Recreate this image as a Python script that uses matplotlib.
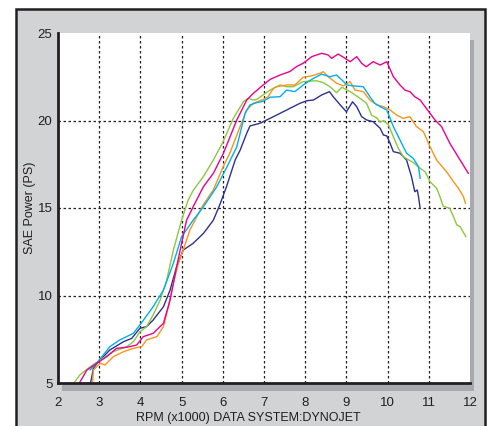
import matplotlib
matplotlib.use("Agg")
import matplotlib.pyplot as plt
from matplotlib.patches import Rectangle

plt.rcParams['font.family'] = ['Liberation Sans', 'DejaVu Sans']

# dyno runs: engine speed (x1000 rpm) vs SAE power (PS)
green_rpm = [2.39, 2.53, 2.78, 3.02, 3.34, 3.67, 3.83, 3.99, 4.15, 4.31, 4.48, 4.64, 4.8, 5.0,
             5.16, 5.28, 5.53, 5.77, 6.01, 6.25, 6.5, 6.62, 6.74, 6.82, 6.94, 7.15, 7.39, 7.55,
             7.71, 7.95, 8.08, 8.28, 8.44, 8.6, 8.76, 8.89, 9.09, 9.33, 9.49, 9.61, 9.74, 9.82,
             9.9, 10.02, 10.14, 10.26, 10.38, 10.62, 10.79, 10.91, 11.03, 11.19, 11.27, 11.35,
             11.51, 11.6, 11.68, 11.76, 11.9]
green_ps = [5.0, 5.46, 5.93, 6.31, 6.79, 7.08, 7.36, 7.93, 8.22, 8.89, 9.74, 10.89, 12.6, 14.3,
            15.46, 16.0, 16.8, 17.74, 18.8, 20.1, 21.07, 21.27, 21.17, 21.2, 21.4, 21.74, 22.03, 21.93,
            21.93, 22.22, 22.25, 22.27, 22.16, 21.93, 21.59, 21.9, 21.65, 21.27, 20.98, 20.31, 20.15, 19.9,
            20.0, 19.75, 19.07, 18.41, 17.93, 17.6, 17.27, 17.07, 16.5, 16.13, 15.65, 15.1,
            14.98, 14.5, 14.03, 13.93, 13.36]

pink_rpm = [2.52, 2.7, 2.94, 3.18, 3.42, 3.67, 3.91, 4.07, 4.31, 4.56, 4.72, 4.88, 5.0, 5.12,
            5.28, 5.53, 5.77, 6.01, 6.34, 6.58, 6.74, 6.98, 7.15, 7.39, 7.63, 7.79, 7.95, 8.16,
            8.4, 8.56, 8.64, 8.8, 8.97, 9.09, 9.25, 9.37, 9.48, 9.65, 9.82, 9.98, 10.14, 10.3,
            10.42, 10.54, 10.66, 10.79, 10.91, 11.03, 11.15, 11.31, 11.51, 11.76, 11.96]
pink_ps = [5.0, 5.74, 6.13, 6.5, 6.98, 7.04, 7.17, 7.65, 7.84, 8.41, 9.74, 11.65, 12.98, 14.3,
           15.07, 16.22, 16.98, 18.1, 20.03, 21.17, 21.55, 22.03, 22.35, 22.6, 22.8, 23.08, 23.27, 23.65,
           23.84, 23.74, 23.55, 23.8, 23.55, 23.36, 23.65, 23.27, 23.07, 23.36, 23.17, 23.36, 22.5, 22.03,
           21.74, 21.65, 21.36, 21.17, 20.79, 20.41, 20.03, 19.65, 18.7, 17.74, 16.98]

orange_rpm = [2.84, 2.86, 3.02, 3.14, 3.34, 3.59, 3.83, 4.03, 4.15, 4.4, 4.56, 4.68, 4.8, 4.92,
              5.04, 5.2, 5.37, 5.53, 5.77, 6.01, 6.17, 6.42, 6.58, 6.74, 6.98, 7.1, 7.23, 7.31,
              7.55, 7.75, 7.95, 8.16, 8.36, 8.44, 8.56, 8.76, 8.93, 9.09, 9.21, 9.41, 9.57, 9.74,
              9.9, 10.06, 10.22, 10.38, 10.54, 10.7, 10.87, 11.03, 11.19, 11.43, 11.6, 11.72,
              11.84, 11.89]
orange_ps = [5.0, 5.74, 6.13, 6.03, 6.5, 6.79, 6.98, 7.08, 7.46, 7.65, 8.22, 9.36, 10.7, 11.84,
             12.6, 13.74, 14.5, 15.2, 16.03, 17.36, 18.13, 19.65, 20.6, 20.98, 21.2, 21.36, 21.84, 21.93,
             22.03, 22.03, 22.47, 22.55, 22.7, 22.79, 22.5, 22.13, 21.98, 22.22, 21.74, 21.65, 21.17, 20.89,
             20.79, 20.6, 20.31, 20.12, 20.22, 19.65, 19.36, 18.5, 17.74, 17.07, 16.5, 16.13,
             15.65, 15.27]

cyan_rpm = [2.78, 2.94, 3.26, 3.5, 3.83, 4.03, 4.31, 4.56, 4.8, 5.0, 5.28, 5.53, 5.85, 6.09,
            6.34, 6.54, 6.66, 6.82, 6.98, 7.15, 7.39, 7.55, 7.75, 7.95, 8.2, 8.4, 8.6, 8.76,
            8.89, 9.01, 9.17, 9.41, 9.57, 9.69, 9.82, 9.98, 10.14, 10.3, 10.46, 10.62, 10.75, 10.79]
cyan_ps = [5.75, 6.13, 7.08, 7.46, 7.84, 8.45, 9.36, 10.31, 11.84, 13.36, 14.3, 15.07, 16.2, 17.3,
           18.5, 20.41, 20.89, 21.02, 21.1, 21.33, 21.36, 21.74, 21.65, 22.03, 22.41, 22.65, 22.5, 22.6,
           22.32, 22.03, 21.98, 21.93, 21.36, 20.98, 20.79, 20.6, 19.65, 18.89, 18.13, 17.84, 17.36, 16.7]

navy_rpm = [2.79, 2.86, 2.98, 3.26, 3.59, 3.79, 3.99, 4.15, 4.31, 4.56, 4.72, 4.88, 5.04, 5.28,
            5.53, 5.77, 5.93, 6.09, 6.3, 6.42, 6.58, 6.66, 6.9, 7.23, 7.55, 7.87, 8.04, 8.2,
            8.4, 8.59, 8.68, 8.85, 9.0, 9.15, 9.25, 9.37, 9.49, 9.65, 9.82, 9.9, 9.98, 10.06,
            10.14, 10.3, 10.46, 10.58, 10.66, 10.72, 10.75, 10.79]
navy_ps = [5.0, 5.84, 6.22, 6.89, 7.36, 7.55, 8.13, 8.22, 8.6, 9.36, 10.31, 11.65, 12.6, 12.98,
           13.55, 14.3, 15.2, 16.22, 17.74, 18.3, 19.27, 19.69, 19.84, 20.22, 20.6, 20.98, 21.13, 21.17,
           21.46, 21.65, 21.36, 20.89, 20.5, 21.07, 20.79, 20.22, 20.03, 19.93, 19.55, 19.17, 19.12, 18.7,
           18.22, 18.13, 17.74, 16.79, 15.93, 16.03, 15.65, 14.98]

runs = [
    (navy_rpm, navy_ps, '#2e3192'),
    (green_rpm, green_ps, '#8dc63f'),
    (orange_rpm, orange_ps, '#f7941d'),
    (cyan_rpm, cyan_ps, '#00aeef'),
    (pink_rpm, pink_ps, '#ec008c'),
]

x_ticks = list(range(2, 13))
y_ticks = [5, 10, 15, 20, 25]

W, H = 488, 426
INK = '#231f20'


def px_box(x0, y0, x1, y1):
    """pixel box (origin top-left) -> figure fraction [left, bottom, width, height]"""
    return [x0 / W, 1 - y1 / H, (x1 - x0) / W, (y1 - y0) / H]


fig = plt.figure(figsize=(W / 100, H / 100), dpi=100, facecolor='white')

# grey card with dark border, and the drop shadow behind the plot area
l, b, w, h = px_box(16, 9, 485, 440)
fig.add_artist(Rectangle((l, b), w, h, transform=fig.transFigure, facecolor='#d1d3d4',
                         edgecolor=INK, linewidth=1.8, zorder=-2))
l, b, w, h = px_box(62, 40, 474, 391)
fig.add_artist(Rectangle((l, b), w, h, transform=fig.transFigure, facecolor='#a7a9ac',
                         edgecolor='none', zorder=-1))

ax = fig.add_axes(px_box(58, 33, 470, 383))
ax.set_facecolor('white')

for xv in x_ticks[1:-1]:
    ax.axvline(xv, color=INK, linestyle=(0, (2, 2)), linewidth=0.9, zorder=1)
for yv in y_ticks[1:-1]:
    ax.axhline(yv, color=INK, linestyle=(0, (2, 2)), linewidth=0.9, zorder=1)

for rpm, ps, color in runs:
    ax.plot(rpm, ps, color=color, linewidth=1.0, zorder=2)

ax.set_xlim(2, 12)
ax.set_ylim(5, 25)
ax.set_xticks(x_ticks)
ax.set_yticks(y_ticks)
ax.tick_params(axis='x', length=0, pad=10, labelsize=9.5, labelcolor=INK)
ax.tick_params(axis='y', length=0, pad=4, labelsize=9.5, labelcolor=INK)

for side in ['top', 'right']:
    ax.spines[side].set_visible(False)
for side in ['left', 'bottom']:
    ax.spines[side].set_linewidth(2)
    ax.spines[side].set_color(INK)

ax.set_xlabel('RPM (x1000) DATA SYSTEM:DYNOJET', fontsize=9, color=INK)
ax.set_ylabel('SAE Power (PS)', fontsize=9, color=INK)
ax.xaxis.set_label_coords((248 - 58) / 412, -(412 - 383) / 350)
ax.yaxis.set_label_coords(-(58 - 36) / 412, 0.5)

fig.savefig('out.png', dpi=100, facecolor='white')
